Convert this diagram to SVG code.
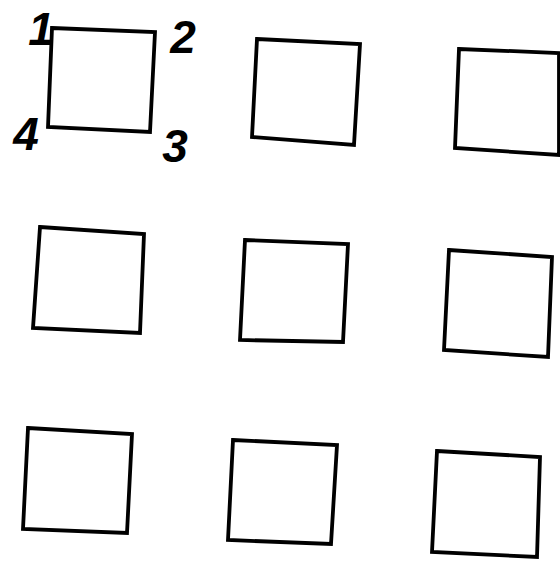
<svg xmlns="http://www.w3.org/2000/svg" width="560" height="564" viewBox="0 0 560 564">
<style>
.sq{fill:none;stroke:#000;stroke-width:3.8;stroke-linejoin:miter}
.lb{font-family:"Liberation Sans",Arial,sans-serif;font-weight:bold;font-style:italic;font-size:46px;fill:#000;text-anchor:middle}
</style>
<rect width="560" height="564" fill="#fff"/>
<g id="sq1"><polygon class="sq" points="52,28 155,32 150,132 48,127"/>
<text class="lb" x="41" y="45">1</text>
<text class="lb" x="183" y="53">2</text>
<text class="lb" x="175" y="162">3</text>
<text class="lb" x="26" y="150">4</text></g>
<g id="sq2"><polygon class="sq" points="257,39 360,44 354,145 252,137"/></g>
<g id="sq3"><polygon class="sq" points="459,49 559,53 559,155 455,148"/></g>
<g id="sq4"><polygon class="sq" points="40,227 144,234 140,333 33,328"/></g>
<g id="sq5"><polygon class="sq" points="245,240 348,244 343,342 240,340"/></g>
<g id="sq6"><polygon class="sq" points="449,250 552,257 548,357 444,350"/></g>
<g id="sq7"><polygon class="sq" points="28,428 132,434 127,533 23,529"/></g>
<g id="sq8"><polygon class="sq" points="233,440 337,445 331,544 228,540"/></g>
<g id="sq9"><polygon class="sq" points="437,451 540,457 537,557 432,552"/></g>
<g id="connectors"></g>
</svg>
